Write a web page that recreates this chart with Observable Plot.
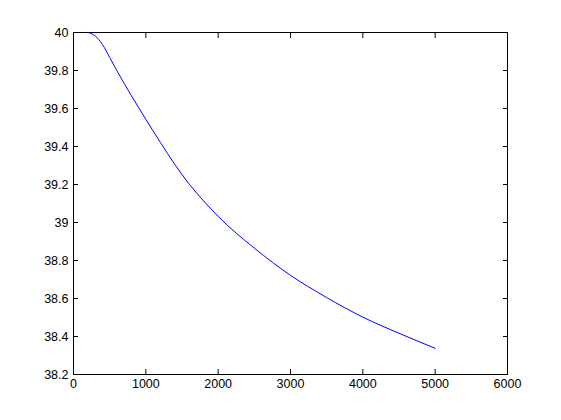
<!DOCTYPE html>
<html>
<head>
<meta charset="utf-8">
<script src="https://cdn.jsdelivr.net/npm/d3@7"></script>
<script src="https://cdn.jsdelivr.net/npm/@observablehq/plot@0.6"></script>
<style>
  html, body { margin: 0; padding: 0; background: #fff; }
  #chart svg { display: block; }
</style>
</head>
<body>
<div id="chart"></div>
<script>
const xValues = [200, 300, 400, 500, 600, 700, 800, 900, 1000, 1200, 1400, 1600, 1800, 2000, 2500, 3000, 3500, 4000, 4500, 5000];
const yValues = [40.0, 39.982, 39.937, 39.869, 39.799, 39.732, 39.668, 39.605, 39.543, 39.422, 39.306, 39.202, 39.113, 39.032, 38.865, 38.722, 38.605, 38.502, 38.417, 38.338];
const xTicks = [0, 1000, 2000, 3000, 4000, 5000, 6000];
const yTicks = [38.2, 38.4, 38.6, 38.8, 39, 39.2, 39.4, 39.6, 39.8, 40];

const data = xValues.map((x, i) => ({x, y: yValues[i]}));

const chart = Plot.plot({
  width: 561,
  height: 420,
  marginLeft: 73,
  marginRight: 54,
  marginTop: 32,
  marginBottom: 46,
  style: {fontFamily: "'Liberation Sans', Arial, sans-serif", fontSize: "12.5px", background: "#fff", color: "#000"},
  x: {domain: [0, 6000]},
  y: {domain: [38.2, 40]},
  marks: [
    Plot.frame({stroke: "#000", strokeWidth: 1}),
    Plot.axisX(xTicks, {anchor: "bottom", tickSize: 0, tickPadding: 5, label: null, tickFormat: d => String(d), fill: "#000"}),
    Plot.axisX(xTicks, {anchor: "bottom", tickSize: -5, text: null, label: null, stroke: "#000"}),
    Plot.axisX(xTicks, {anchor: "top", tickSize: -5, text: null, label: null, stroke: "#000"}),
    Plot.axisY(yTicks, {anchor: "left", tickSize: 0, tickPadding: 5, label: null, tickFormat: d => String(+d.toFixed(1)), fill: "#000"}),
    Plot.axisY(yTicks, {anchor: "left", tickSize: -5, text: null, label: null, stroke: "#000"}),
    Plot.axisY(yTicks, {anchor: "right", tickSize: -5, text: null, label: null, stroke: "#000"}),
    Plot.line(data, {x: "x", y: "y", stroke: "#0000ff", strokeWidth: 1, curve: "monotone-x"})
  ]
});
document.getElementById("chart").appendChild(chart);
</script>
</body>
</html>
